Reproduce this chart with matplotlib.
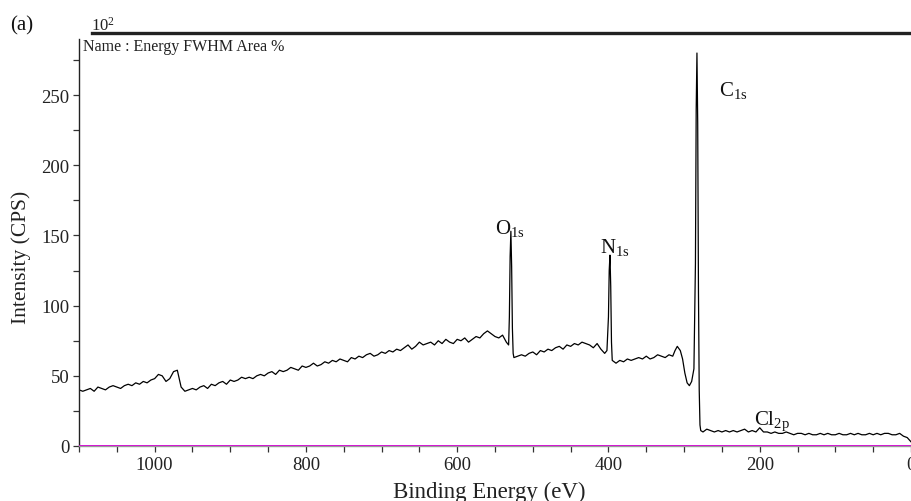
import matplotlib
matplotlib.use("Agg")
import matplotlib.pyplot as plt
from matplotlib.lines import Line2D
from matplotlib.ticker import MultipleLocator

plt.rcParams["font.family"] = ["Liberation Serif", "DejaVu Serif"]
plt.rcParams["mathtext.fontset"] = "custom"
plt.rcParams["mathtext.rm"] = "Liberation Serif"
plt.rcParams["mathtext.it"] = "Liberation Serif:italic"

# XPS survey spectrum: binding energy (eV) and intensity (counts per second)
binding_energy = [
    1100, 1095, 1090, 1085, 1080, 1075, 1070, 1065, 1060, 1055, 1050, 1045, 1040, 1035,
    1030, 1025, 1020, 1015, 1010, 1005, 1000, 995, 990, 985, 980, 975, 970, 965, 960,
    955, 950, 945, 940, 935, 930, 925, 920, 915, 910, 905, 900, 895, 890, 885, 880,
    875, 870, 865, 860, 855, 850, 845, 840, 835, 830, 825, 820, 815, 810, 805, 800,
    795, 790, 785, 780, 775, 770, 765, 760, 755, 750, 745, 740, 735, 730, 725, 720,
    715, 710, 705, 700, 695, 690, 685, 680, 675, 670, 665, 660, 655, 650, 645, 640,
    635, 630, 625, 620, 615, 610, 605, 600, 595, 590, 585, 580, 575, 570, 565, 560,
    555, 550, 545, 540, 535, 532, 531, 530, 529, 528, 527, 526, 525, 520, 515, 510,
    505, 500, 495, 490, 485, 480, 475, 470, 465, 460, 455, 450, 445, 440, 435, 430,
    425, 420, 415, 410, 405, 402, 400, 399, 398, 397, 396, 395, 390, 385, 380, 375,
    370, 365, 360, 355, 350, 345, 340, 335, 330, 325, 320, 315, 312, 309, 305, 302,
    299, 296, 293, 290, 287, 285, 284, 283, 282, 281, 280, 279, 278, 275, 270, 265,
    260, 255, 250, 245, 240, 235, 230, 225, 220, 215, 210, 205, 200, 195, 190, 185,
    180, 175, 170, 165, 160, 155, 150, 145, 140, 135, 130, 125, 120, 115, 110, 105,
    100, 95, 90, 85, 80, 75, 70, 65, 60, 55, 50, 45, 40, 35, 30, 25, 20, 15, 10, 5, 0,
]
intensity = [
    40, 39, 40, 41, 39, 42, 41, 40, 42, 43, 42, 41, 43, 44,
    43, 45, 44, 46, 45, 47, 48, 51, 50, 46, 48, 53, 54, 42, 39,
    40, 41, 40, 42, 43, 41, 44, 43, 45, 46, 44, 47, 46, 47, 49, 48,
    49, 48, 50, 51, 50, 52, 53, 51, 54, 53, 54, 56, 55, 54, 57, 56,
    57, 59, 57, 58, 60, 59, 61, 60, 62, 61, 60, 63, 62, 64, 63, 65,
    66, 64, 65, 67, 66, 68, 67, 69, 68, 70, 72, 69, 71, 74, 72, 73,
    74, 72, 75, 73, 76, 74, 73, 76, 75, 77, 74, 76, 78, 77, 80, 82,
    80, 78, 77, 79, 74, 72, 92, 135, 153, 128, 84, 66, 63, 64, 65, 64,
    66, 67, 65, 68, 67, 69, 68, 70, 71, 69, 72, 71, 73, 72, 74, 73,
    72, 70, 73, 69, 66, 68, 92, 125, 136, 114, 74, 61, 59, 61, 60, 62,
    61, 62, 63, 62, 64, 62, 63, 65, 64, 63, 65, 64, 68, 71, 68, 62,
    52, 45, 43, 46, 55, 130, 240, 280, 230, 110, 40, 15, 11, 10, 12, 11,
    10, 11, 10, 11, 10, 11, 10, 11, 12, 10, 11, 10, 13, 10, 10, 9,
    10, 9, 9, 10, 9, 8, 9, 9, 8, 9, 8, 8, 9, 8, 9, 8,
    8, 9, 8, 8, 9, 8, 9, 8, 8, 9, 8, 9, 8, 9, 9, 8, 8, 9, 7, 6, 3,
]

# Peak labels: (element, orbital, label energy, label height)
peak_labels = [
    ("O", "1s", 550, 152),
    ("N", "1s", 411, 138),
    ("C", "1s", 254, 250),
    ("Cl", "2p", 208, 15.5),
]

fig = plt.figure(figsize=(9.12, 5.02), dpi=100)
ax = fig.add_axes([79 / 912, 1 - 447 / 502, 832 / 912, 407 / 502])

ax.plot(binding_energy, intensity, color="black", lw=0.9)
ax.axhline(0, color="#d000d0", lw=2.0, zorder=3)

ax.set_xlim(1100, 0)
ax.set_ylim(0, 290)

ax.xaxis.set_major_locator(MultipleLocator(200))
ax.xaxis.set_minor_locator(MultipleLocator(50))
ax.yaxis.set_major_locator(MultipleLocator(50))
ax.yaxis.set_minor_locator(MultipleLocator(25))
ax.tick_params(which="both", direction="out", length=4, width=0.9,
               colors="#333333", labelsize=13.5, labelcolor="#222222", pad=3)

for side in ("top", "right"):
    ax.spines[side].set_visible(False)
ax.spines["left"].set_color("#222222")
ax.spines["left"].set_linewidth(1.0)
ax.spines["bottom"].set_color("#999999")
ax.spines["bottom"].set_linewidth(1.0)

ax.set_xlabel("Binding Energy (eV)", fontsize=16.5, color="#222222", labelpad=1)
ax.xaxis.set_label_coords(0.493, -0.085)
ax.set_ylabel("Intensity (CPS)", fontsize=15.5, color="#222222")
ax.yaxis.set_label_coords(-0.058, 0.466)

for elem, orb, xe, yv in peak_labels:
    ax.text(xe, yv, elem + r"$_{\mathrm{" + orb + r"}}$", fontsize=15,
            ha="left", va="baseline", color="#111111")

# Frame decorations above the plot
fig.add_artist(Line2D([92 / 912, 1.0], [1 - 33.5 / 502] * 2,
                      transform=fig.transFigure, color="#222222", lw=2.4))
fig.text(91 / 912, 1 - 30.5 / 502, r"10$^{2}$", fontsize=12, ha="left",
         va="baseline", color="#222222")
fig.text(10 / 912, 1 - 30 / 502, "(a)", fontsize=15, ha="left",
         va="baseline", color="#111111")
fig.text(83 / 912, 1 - 51 / 502, "Name : Energy FWHM Area %", fontsize=11.5,
         ha="left", va="baseline", color="#222222")

fig.savefig("out.png", dpi=100)
